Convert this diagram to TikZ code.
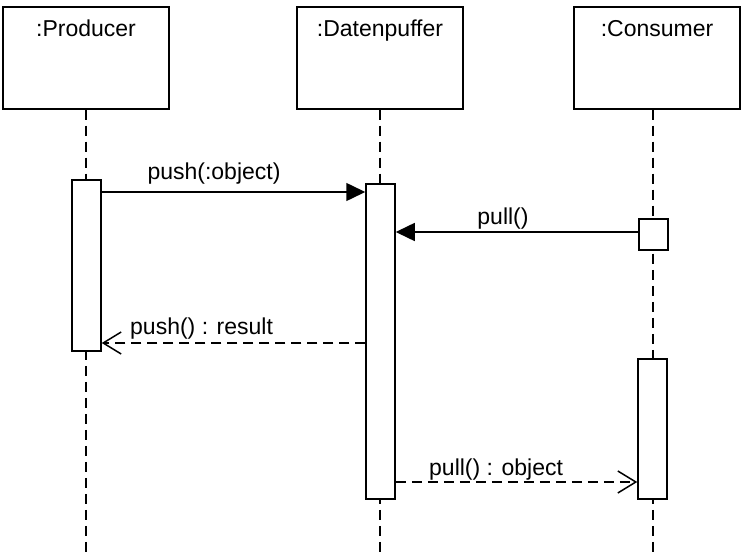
\documentclass[tikz,border=0pt]{standalone}
\usepackage{fontspec}
\setmainfont{Liberation Sans}
\usetikzlibrary{arrows.meta}
\begin{document}
\begin{tikzpicture}[x=1pt,y=-1pt,
  objbox/.style={draw,line width=1.5pt,fill=white,minimum width=166pt,minimum height=102pt,inner sep=0pt},
  actbox/.style={draw,line width=1.5pt,fill=white,minimum width=29pt,inner sep=0pt},
  lifeline/.style={line width=1.5pt,dash pattern=on 10pt off 6pt},
  txt/.style={font=\fontsize{23pt}{27pt}\selectfont,inner sep=0pt},
  callmsg/.style={line width=1.5pt,-{Triangle[length=19pt,width=18pt]}},
  retmsg/.style={line width=1.5pt,dash pattern=on 10pt off 6pt,-{Straight Barb[length=18pt,width=22pt,line width=1.5pt]}}]
\useasboundingbox (0,0) rectangle (747,556);
% object boxes
\node[objbox] (prod) at (86,58) {};
\node[objbox] (buf) at (380,58) {};
\node[objbox] (cons) at (657,58) {};
\node[txt,anchor=base] (prodt) at (86,37) {:Producer};
\node[txt,anchor=base] (buft) at (380,37) {:Datenpuffer};
\node[txt,anchor=base] (const) at (657,37) {:Consumer};
% lifelines
\coordinate (prodend) at (86,556);
\coordinate (bufend) at (380,556);
\coordinate (consend) at (653,556);
\draw[lifeline] (prod.south) -- (prodend);
\draw[lifeline] (buf.south) -- (bufend);
\draw[lifeline] (cons.south -| consend) -- (consend);
% activations
\node[actbox,minimum height=171pt] (pact) at (86.5,265.5) {};
\node[actbox,minimum height=315pt] (bact) at (380.5,341.5) {};
\node[actbox,minimum height=31pt] (cq) at (653.5,234.5) {};
\node[actbox,minimum height=140pt] (cact) at (652.5,429) {};
% messages
\draw[callmsg] (pact.east |- 0,192) -- (bact.west |- 0,192);
\node[txt,anchor=base] (m1) at (214,180) {push(:object)};
\draw[callmsg] (cq.west |- 0,232) -- (bact.east |- 0,232);
\node[txt,anchor=base] (m2) at (503,225) {pull()};
\draw[retmsg] (bact.west |- 0,343) -- (pact.east |- 0,343);
\node[txt,anchor=base west] (m3) at (130,334) {push() : result};
\draw[retmsg] (bact.east |- 0,482) -- (cact.west |- 0,482);
\node[txt,anchor=base west] (m4) at (429,475) {pull() : object};
\end{tikzpicture}
\end{document}
